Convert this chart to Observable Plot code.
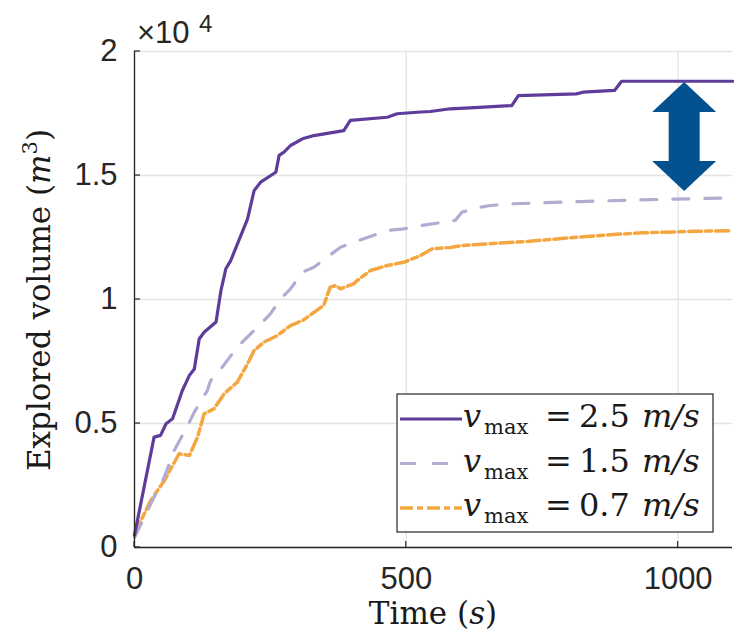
<!DOCTYPE html>
<html><head><meta charset="utf-8">
<script src="https://cdn.jsdelivr.net/npm/d3@7"></script>
<script src="https://cdn.jsdelivr.net/npm/@observablehq/plot@0.6"></script>
<style>body{margin:0;background:#fff}</style>
</head><body><div id="chart"></div>
<script>
// ---- data ----
const xTicks = [0, 500, 1000];
const yTicks = [0, 5000, 10000, 15000, 20000];
const seriesLabels = ["2.5", "1.5", "0.7"];

const t25 = [0,36,48,58,70,88,101,110,119,128,150,159,168,177,208,220,232,260,266,275,287,309,330,385,397,465,483,526,544,581,617,694,706,813,825,883,896,1100];
const v25 = [500,4450,4520,4990,5190,6330,6940,7200,8410,8680,9090,10360,11240,11570,13250,14390,14730,15130,15810,15940,16210,16480,16610,16810,17220,17350,17490,17560,17580,17690,17730,17820,18220,18290,18360,18430,18800,18800];

const t15 = [0,21,36,55,73,98,110,134,140,159,189,220,250,269,287,309,330,354,379,412,465,495,526,590,602,636,654,697,819,935,1100];
const v15 = [400,1360,2030,2840,3910,4920,5460,6330,6730,7200,8080,8750,9420,10030,10430,11100,11300,11700,12110,12380,12780,12850,12980,13190,13520,13720,13790,13860,13950,14020,14100];

const t07 = [0,30,55,82,101,116,128,146,165,189,208,220,238,263,287,309,348,360,370,379,403,410,434,465,495,526,547,581,605,727,801,874,935,1033,1100];
const v07 = [550,1900,2700,3780,3710,4450,5390,5590,6200,6670,7410,7940,8280,8550,8950,9150,9760,10500,10560,10430,10630,10770,11170,11370,11500,11770,12040,12100,12180,12350,12490,12610,12690,12750,12780];

// annotation arrow (data coordinates)
const arrowT = 1012, arrowTopV = 18750, arrowBottomV = 14350;

// ---- styles ----
const colors = ["#5e3c99", "#b2abd2", "#f4a640"];
const dashes = [null, "16,16", "13,4,6,4"];
const widths = [3.2, 3.2, 3.5];
const axisColor = "#262626";
const gridColor = "#e4e4e4";
const sans = "'Liberation Sans', Arial, Helvetica, sans-serif";
const serif = "'DejaVu Serif', 'Liberation Serif', serif";

const toRows = (ts, vs) => ts.map((t, i) => ({t, v: vs[i]}));
const rows = [toRows(t25, v25), toRows(t15, v15), toRows(t07, v07)];

const lineMarks = [2, 1, 0].map(i => Plot.line(rows[i], {
  x: "t", y: "v", stroke: colors[i], strokeWidth: widths[i],
  strokeDasharray: dashes[i], strokeLinejoin: "round"
}));

const inwardTicks = (index, {x, y}) => {
  const g = d3.create("svg:g").attr("stroke", axisColor).attr("stroke-width", 1.2);
  for (const t of xTicks) g.append("line").attr("x1", x(t)).attr("x2", x(t)).attr("y1", y(0)).attr("y2", y(0) - 6);
  for (const v of yTicks) g.append("line").attr("x1", x(0)).attr("x2", x(0) + 6).attr("y1", y(v)).attr("y2", y(v));
  return g.node();
};

const arrowMark = (index, {x, y}) => {
  const cx = x(arrowT), top = y(arrowTopV), bot = y(arrowBottomV);
  const hw = 32, sw = 15.5, hl = 30;
  const p = [[cx, top], [cx + hw, top + hl], [cx + sw, top + hl], [cx + sw, bot - hl], [cx + hw, bot - hl],
             [cx, bot], [cx - hw, bot - hl], [cx - sw, bot - hl], [cx - sw, top + hl], [cx - hw, top + hl]];
  return d3.create("svg:path").attr("d", "M" + p.map(d => d.join(",")).join("L") + "Z")
    .attr("fill", "#03518f").node();
};

const legendMark = () => {
  const g = d3.create("svg:g");
  g.append("rect").attr("x", 397).attr("y", 394).attr("width", 316).attr("height", 138)
    .attr("fill", "white").attr("stroke", axisColor).attr("stroke-width", 1.2);
  seriesLabels.forEach((lab, i) => {
    const cy = 419 + i * 44.5;
    g.append("line").attr("x1", 400).attr("x2", 462).attr("y1", cy).attr("y2", cy)
      .attr("stroke", colors[i]).attr("stroke-width", widths[i]).attr("stroke-dasharray", dashes[i]);
    const base = cy + 8;
    const tx = g.append("text").attr("y", base).attr("text-anchor", "start")
      .attr("font-family", serif).attr("font-size", 32).attr("fill", "#1a1a1a");
    tx.append("tspan").attr("x", 463).attr("font-style", "italic").text("v");
    tx.append("tspan").attr("x", 484).attr("y", base + 7).attr("font-size", 21).text("max");
    tx.append("tspan").attr("x", 545).attr("y", base).text("=");
    tx.append("tspan").attr("x", 579).text(lab);
    tx.append("tspan").attr("x", 642).attr("font-style", "italic").text("m/s");
  });
  return g.node();
};

const chart = Plot.plot({
  width: 734, height: 639,
  marginLeft: 134, marginRight: 2, marginTop: 51, marginBottom: 92,
  style: {background: "white", overflow: "visible"},
  x: {domain: [0, 1100]},
  y: {domain: [0, 20000]},
  marks: [
    Plot.gridX(xTicks, {stroke: gridColor, strokeOpacity: 1, strokeWidth: 1.3}),
    Plot.gridY(yTicks, {stroke: gridColor, strokeOpacity: 1, strokeWidth: 1.3}),
    ...lineMarks,
    Plot.ruleX([0], {stroke: axisColor, strokeWidth: 1.3}),
    Plot.ruleY([0], {stroke: axisColor, strokeWidth: 1.3}),
    inwardTicks,
    Plot.axisX({ticks: xTicks, tickSize: 0, tickPadding: 19, fontSize: 31, fontFamily: sans, color: axisColor, label: null,
      tickFormat: d => String(d)}),
    Plot.axisY({ticks: yTicks, tickSize: 0, tickPadding: 17, fontSize: 31, fontFamily: sans, color: axisColor, label: null,
      tickFormat: d => String(d / 1e4)}),
    arrowMark,
    legendMark
  ]
});

const svg = d3.select(chart);
// ×10^4 exponent label
const ex = svg.append("text").attr("x", 137).attr("y", 43).attr("text-anchor", "start")
  .attr("font-family", sans).attr("font-size", 31).attr("fill", axisColor);
ex.append("tspan").text("×10");
ex.append("tspan").attr("x", 199).attr("y", 32).attr("font-size", 24).text("4");
// x-axis label
const xl = svg.append("text").attr("x", 433).attr("y", 624).attr("text-anchor", "middle")
  .attr("font-family", serif).attr("font-size", 31).attr("fill", "#1a1a1a");
xl.append("tspan").text("Time (");
xl.append("tspan").attr("font-style", "italic").text("s");
xl.append("tspan").text(")");
// y-axis label
const yl = svg.append("text").attr("transform", "translate(50,300) rotate(-90)").attr("text-anchor", "middle")
  .attr("font-family", serif).attr("font-size", 31).attr("fill", "#1a1a1a");
yl.append("tspan").text("Explored volume (");
yl.append("tspan").attr("font-style", "italic").text("m");
yl.append("tspan").attr("dy", -13).attr("font-size", 21).text("3");
yl.append("tspan").attr("dy", 13).text(")");

document.getElementById("chart").appendChild(chart);
</script></body></html>
